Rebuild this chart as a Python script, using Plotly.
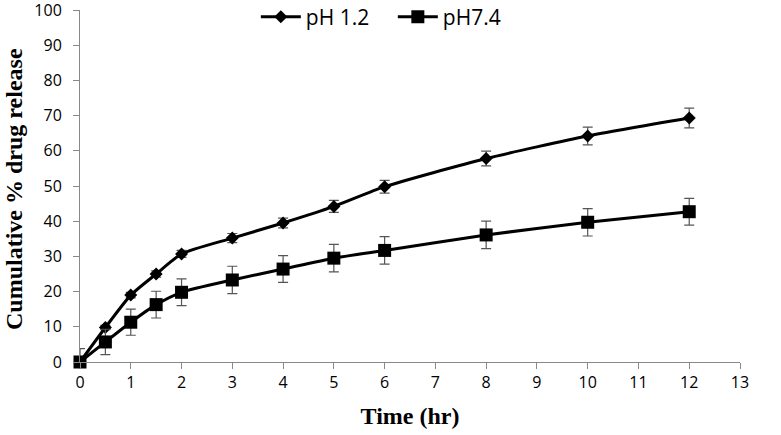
import plotly.graph_objects as go

time_hr = [0, 0.5, 1, 1.5, 2, 3, 4, 5, 6, 8, 10, 12]
ph12 = [0, 9.8, 19.0, 25.0, 30.7, 35.2, 39.5, 44.2, 49.8, 57.8, 64.2, 69.3]
ph12_err = [0.5, 0.6, 0.8, 0.9, 1.0, 1.3, 1.4, 1.7, 1.8, 2.1, 2.5, 2.8]
ph74 = [0, 5.7, 11.3, 16.3, 19.8, 23.3, 26.4, 29.5, 31.7, 36.1, 39.7, 42.7]
ph74_err = [3.8, 3.6, 3.7, 3.8, 3.8, 3.9, 3.8, 3.9, 3.9, 3.9, 3.9, 3.8]

fig = go.Figure()
fig.add_trace(go.Scatter(
    x=time_hr, y=ph12, name="pH 1.2", mode="lines+markers", cliponaxis=False,
    line=dict(color="black", width=3, shape="spline", smoothing=0.6),
    marker=dict(symbol="diamond", size=10, color="black"),
    error_y=dict(type="data", array=ph12_err, visible=True, color="#555555", thickness=1.2, width=5),
))
fig.add_trace(go.Scatter(
    x=time_hr, y=ph74, name="pH7.4", mode="lines+markers", cliponaxis=False,
    line=dict(color="black", width=3, shape="spline", smoothing=0.6),
    marker=dict(symbol="square", size=13, color="black"),
    error_y=dict(type="data", array=ph74_err, visible=True, color="#555555", thickness=1.2, width=5),
))

fig.update_layout(
    width=781, height=435,
    margin=dict(l=80, r=41, t=10, b=73, autoexpand=False),
    plot_bgcolor="white", paper_bgcolor="white",
    font=dict(family="Open Sans, Liberation Sans", size=16, color="black"),
    showlegend=True,
    legend=dict(orientation="h", x=0.474, y=0.98, xanchor="center", yanchor="middle",
                font=dict(size=21), bgcolor="rgba(0,0,0,0)", itemwidth=40,
                entrywidth=82, entrywidthmode="pixels"),
    xaxis=dict(
        range=[0, 13], tickmode="linear", tick0=0, dtick=1, automargin=False,
        showgrid=False, zeroline=False, showline=True, linecolor="#888888", linewidth=1,
        ticks="outside", ticklen=6, tickcolor="#888888", ticklabeloverflow="allow",
        title=dict(text="<b>Time (hr)</b>", font=dict(family="Liberation Serif", size=24), standoff=14),
    ),
    yaxis=dict(
        range=[0, 100], tickmode="linear", tick0=0, dtick=10, automargin=False,
        showgrid=False, zeroline=False, showline=True, linecolor="#888888", linewidth=1,
        ticks="outside", ticklen=6, tickcolor="#888888", ticklabeloverflow="allow",
        ticklabelstandoff=8,
    ),
    annotations=[dict(
        text="<b>Cumulative % drug release</b>", xref="paper", yref="paper",
        x=-0.1, y=0.4915, xanchor="center", yanchor="middle", textangle=-90,
        showarrow=False, font=dict(family="Liberation Serif", size=24, color="black"),
    )],
)

fig.write_html("out.html", config={"displayModeBar": False},
               post_script="document.body.style.margin='0';")
